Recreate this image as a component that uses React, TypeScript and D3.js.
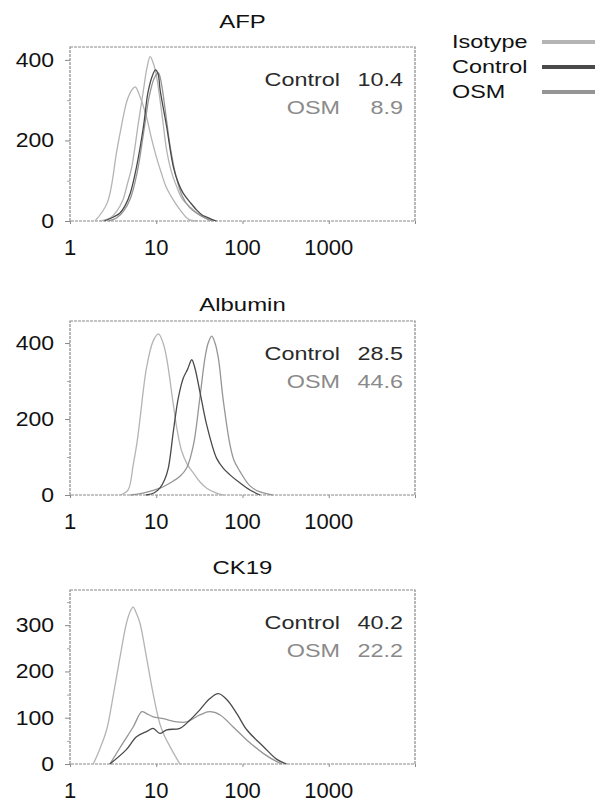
import React, { useEffect, useRef } from "react";
import * as d3 from "d3";

type Pt = [number, number];

// tick labels
const xTicks = [1, 10, 100, 1000];
const afpYTicks = [0, 200, 400];
const albYTicks = [0, 200, 400];
const ck19YTicks = [0, 100, 200, 300];

const legendNames = ["Isotype", "Control", "OSM"];
const panelTitles = ["AFP", "Albumin", "CK19"];
const controlValues = ["10.4", "28.5", "40.2"];
const osmValues = ["8.9", "44.6", "22.2"];

// AFP histograms (fluorescence, count)
const afpIsoA: Pt[] = [[1.95, 0], [2.7, 45], [3.5, 176], [4.2, 265], [4.6, 300], [5.2, 325], [5.7, 333], [6.5, 308], [7.7, 259], [8.8, 205], [10, 160], [11.5, 118], [13, 85], [16, 50], [19, 27], [22, 10], [25, 2], [30, 0]];
const afpIsoB: Pt[] = [[2.2, 0], [2.9, 7], [3.5, 25], [4.1, 52], [4.6, 90], [5.2, 134], [6.2, 243], [7.1, 325], [7.8, 380], [8.5, 408], [9.3, 390], [10.1, 358], [11.6, 268], [13.2, 176], [15, 122], [17.3, 85], [20, 55], [24.6, 35], [30, 20], [35, 10], [46, 0]];
const afpControl: Pt[] = [[2.5, 0], [3.2, 10], [3.8, 20], [4.4, 40], [5.0, 69], [5.9, 134], [7.1, 234], [8.0, 318], [9.0, 360], [9.8, 375], [10.5, 365], [11.1, 325], [13.2, 234], [15.8, 134], [18, 95], [20.5, 69], [25, 45], [29.5, 27], [34, 15], [38, 10], [44, 4], [50, 0]];
const afpOsm: Pt[] = [[2.8, 0], [3.5, 8], [4.2, 25], [5.0, 55], [6.0, 120], [7.2, 225], [8.3, 310], [9.5, 355], [10.6, 368], [11.5, 340], [12.8, 270], [14.5, 185], [17, 110], [20, 62], [24, 35], [30, 18], [38, 6], [45, 0]];

// Albumin histograms
const albIso: Pt[] = [[3.8, 0], [4.7, 13], [5.4, 79], [6.0, 140], [6.5, 203], [7.7, 334], [9.2, 405], [10.6, 424], [12, 400], [13.2, 360], [15.8, 237], [17.5, 170], [19.7, 116], [23, 80], [26.9, 58], [32, 35], [38.5, 18], [50, 5], [60, 0]];
const albControl: Pt[] = [[7.6, 0], [9.5, 6], [11, 18], [12.5, 40], [13.8, 71], [15.8, 168], [18, 255], [20.6, 308], [23, 330], [25.8, 356], [28, 335], [32, 273], [38.5, 184], [50, 97], [60, 70], [71.6, 53], [93, 32], [122, 13], [160, 0]];
const albOsm: Pt[] = [[5, 0], [7, 5], [11, 18], [15.8, 37], [19, 50], [22.5, 71], [27, 132], [32, 255], [36.7, 360], [40, 400], [44, 418], [48, 400], [52.5, 360], [60, 247], [71.6, 132], [80, 90], [93, 63], [122, 24], [160, 8], [224, 0]];

// CK19 histograms
const ck19Iso: Pt[] = [[1.86, 0], [2.2, 31], [2.66, 74], [3.2, 152], [3.8, 231], [4.5, 303], [5.0, 330], [5.4, 339], [5.9, 325], [6.5, 303], [7.7, 231], [9.2, 152], [11, 87], [12.5, 60], [14.4, 38], [16.5, 18], [18.8, 0]];
const ck19Osm: Pt[] = [[2.9, 0], [4.1, 45], [5.4, 80], [6.8, 113], [7.7, 109], [9.2, 102], [12.1, 98], [17.3, 91], [22.5, 91], [32, 106], [41.6, 113], [55, 106], [78, 80], [112, 52], [174, 23], [250, 5], [290, 0]];
const ck19Control: Pt[] = [[2.9, 0], [4.5, 31], [5.9, 59], [7.7, 70], [9.2, 77], [11, 66], [13.2, 74], [18.8, 77], [24.6, 95], [32, 117], [41.6, 141], [52.5, 152], [66, 139], [86, 109], [112, 74], [174, 38], [250, 10], [325, 0]];

const colors = { iso: "#b4b4b4", control: "#4a4a4a", osm: "#959595" };
const font = "'Liberation Sans', Arial, sans-serif";

const App = () => {
  const svgRef = useRef<SVGSVGElement | null>(null);

  useEffect(() => {
    if (!svgRef.current) return;
    const svg = d3.select(svgRef.current);
    svg.selectAll("*").remove();

    const left = 70;
    const right = 415;
    const boxH = 174;

    const label = (g: any, x: number, y: number, str: string, size: number, sx: number, anchor: string, fill: string) =>
      g.append("text")
        .attr("transform", `translate(${x},${y}) scale(${sx},1)`)
        .attr("text-anchor", anchor)
        .attr("font-family", font)
        .attr("font-size", size)
        .attr("fill", fill)
        .text(str);

    const panels = [
      { top: 47, titleY: 28, yMax: 432, ticks: afpYTicks, minor: [100, 300],
        curves: [[afpIsoA, colors.iso], [afpIsoB, colors.iso], [afpOsm, colors.osm], [afpControl, colors.control]] },
      { top: 321, titleY: 311, yMax: 458, ticks: albYTicks, minor: [100, 300],
        curves: [[albIso, colors.iso], [albOsm, colors.osm], [albControl, colors.control]] },
      { top: 590, titleY: 574, yMax: 376, ticks: ck19YTicks, minor: [50, 150, 250, 350],
        curves: [[ck19Iso, colors.iso], [ck19Osm, colors.osm], [ck19Control, colors.control]] },
    ];

    const x = d3.scaleLog().domain([1, 10000]).range([left, right]);

    panels.forEach((p, i) => {
      const bottom = p.top + boxH;
      const y = d3.scaleLinear().domain([0, p.yMax]).range([bottom, p.top]);
      const g = svg.append("g");

      // frame
      g.append("rect")
        .attr("x", left).attr("y", p.top)
        .attr("width", right - left).attr("height", boxH)
        .attr("fill", "none").attr("stroke", "#8a8a8a")
        .attr("stroke-width", 1.2).attr("stroke-dasharray", "3 1");

      // y axis
      const yAxis = g.append("g").attr("transform", `translate(${left},0)`)
        .call(d3.axisLeft(y).tickValues(p.ticks).tickSize(5).tickFormat(() => ""));
      yAxis.select(".domain").remove();
      yAxis.selectAll("line").attr("stroke", "#8a8a8a");
      g.append("g").attr("transform", `translate(${left},0)`)
        .call(d3.axisLeft(y).tickValues(p.minor).tickSize(3).tickFormat(() => ""))
        .call((a: any) => a.select(".domain").remove())
        .selectAll("line").attr("stroke", "#aaa");
      p.ticks.forEach((t) => label(g, 54, y(t) + 7, String(t), 20, 1.15, "end", "#111"));

      // x axis
      const xAxis = g.append("g").attr("transform", `translate(0,${bottom})`)
        .call(d3.axisBottom(x).tickValues(xTicks.concat([10000])).tickSize(3).tickFormat(() => ""));
      xAxis.select(".domain").remove();
      xAxis.selectAll("line").attr("stroke", "#8a8a8a");
      xTicks.forEach((t) => label(g, x(t), bottom + 34, String(t), 22, 1, "middle", "#111"));

      // title
      label(g, (left + right) / 2, p.titleY, panelTitles[i], 18, 1.33, "middle", "#111");

      // annotations
      label(g, 340, p.top + 39, "Control", 18, 1.3, "end", "#2a2a2a");
      label(g, 403, p.top + 39, controlValues[i], 18, 1.3, "end", "#2a2a2a");
      label(g, 340, p.top + 67, "OSM", 18, 1.3, "end", "#8a8a8a");
      label(g, 403, p.top + 67, osmValues[i], 18, 1.3, "end", "#8a8a8a");

      // histogram curves
      const line = d3.line<Pt>()
        .x((d) => x(d[0]))
        .y((d) => y(d[1]))
        .curve(d3.curveCatmullRom.alpha(0.5));
      p.curves.forEach(([data, color]) => {
        g.append("path")
          .attr("d", line(data as Pt[]))
          .attr("fill", "none")
          .attr("stroke", color as string)
          .attr("stroke-width", 1.3);
      });
    });

    // legend
    const legendColors = [colors.iso, colors.control, colors.osm];
    legendNames.forEach((name, i) => {
      const ly = 48 + i * 25;
      label(svg, 452, ly, name, 18, 1.3, "start", "#111");
      svg.append("line")
        .attr("x1", 542).attr("x2", 595)
        .attr("y1", ly - 6).attr("y2", ly - 6)
        .attr("stroke", legendColors[i])
        .attr("stroke-width", 4);
    });
  }, []);

  return (
    <svg
      ref={svgRef}
      width={606}
      height={802}
      style={{ position: "absolute", left: 0, top: 0, background: "#fff" }}
    />
  );
};

export default App;
